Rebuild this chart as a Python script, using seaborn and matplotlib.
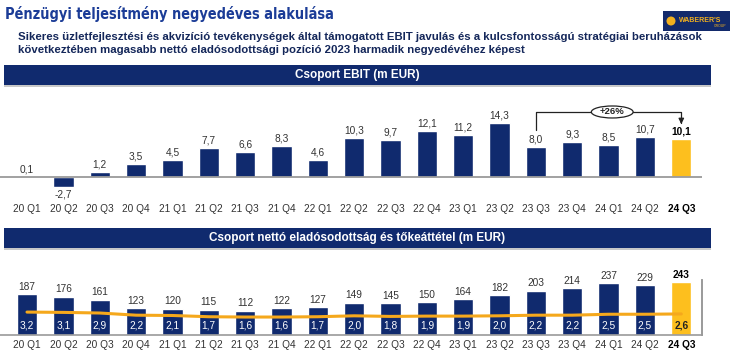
import matplotlib
matplotlib.use("Agg")
import matplotlib.pyplot as plt
from matplotlib.patches import Rectangle, Ellipse, Circle
import seaborn as sns
import pandas as pd

quarters = ["20 Q1", "20 Q2", "20 Q3", "20 Q4", "21 Q1", "21 Q2", "21 Q3", "21 Q4",
            "22 Q1", "22 Q2", "22 Q3", "22 Q4", "23 Q1", "23 Q2", "23 Q3", "23 Q4",
            "24 Q1", "24 Q2", "24 Q3"]
ebit = [0.1, -2.7, 1.2, 3.5, 4.5, 7.7, 6.6, 8.3, 4.6, 10.3, 9.7, 12.1, 11.2, 14.3,
        8.0, 9.3, 8.5, 10.7, 10.1]
net_debt = [187, 176, 161, 123, 120, 115, 112, 122, 127, 149, 145, 150, 164, 182,
            203, 214, 237, 229, 243]
leverage = [3.2, 3.1, 2.9, 2.2, 2.1, 1.7, 1.6, 1.6, 1.7, 2.0, 1.8, 1.9, 1.9, 2.0,
            2.2, 2.2, 2.5, 2.5, 2.6]
growth_label = "+26%"

title = "Pénzügyi teljesítmény negyedéves alakulása"
subtitle1 = ("Sikeres üzletfejlesztési és akvizíció tevékenységek által támogatott EBIT javulás "
             "és a kulcsfontosságú stratégiai beruházások")
subtitle2 = "következtében magasabb nettó eladósodottsági pozíció 2023 harmadik negyedévéhez képest"
header1 = "Csoport EBIT (m EUR)"
header2 = "Csoport nettó eladósodottság és tőkeáttétel (m EUR)"

NAVY = "#102a6e"
YELLOW = "#fdbf1e"
ORANGE = "#f5a81c"
GREY = "#9a9a9a"
TXT = "#333333"

sns.set_theme(style="white")
plt.rcParams["font.family"] = ["Liberation Sans", "DejaVu Sans"]

W, H = 730, 362
fig = plt.figure(figsize=(W / 100, H / 100), dpi=100)
fig.patch.set_facecolor("white")


def rect(x0, y0, x1, y1):
    return [x0 / W, 1 - y1 / H, (x1 - x0) / W, (y1 - y0) / H]


# background/decoration axes in pixel coordinates
bg = fig.add_axes([0, 0, 1, 1], zorder=0)
bg.set_xlim(0, W)
bg.set_ylim(H, 0)
bg.axis("off")

ttl = bg.text(5, 14, title, fontsize=17, fontweight="heavy", color="#1b3c97",
              family=["DejaVu Sans"], fontstretch="condensed",
              va="center", ha="left")
renderer = fig.canvas.get_renderer()
tw = ttl.get_window_extent(renderer).width
if tw > 330:
    ttl.set_fontsize(17 * 330 / tw)

bg.text(18, 37, subtitle1, fontsize=8.2, fontweight="bold", color="#14275a",
        va="center", ha="left")
bg.text(18, 50, subtitle2, fontsize=8.2, fontweight="bold", color="#14275a",
        va="center", ha="left")

# logo
bg.add_patch(Rectangle((663, 11), 67, 20, facecolor="#132a6b", edgecolor="none"))
bg.add_patch(Circle((671, 21), 4.5, facecolor="#f2b01e", edgecolor="none"))
bg.text(679, 20, "WABERER'S", fontsize=5, fontweight="bold", color="#f2b01e",
        va="center", ha="left")
bg.text(726, 26, "GROUP", fontsize=2.5, color="#f2b01e", va="center", ha="right")

for (y0, y1, txt) in [(65, 85, header1), (228, 248, header2)]:
    bg.add_patch(Rectangle((4, y0 + 1.5), 707, y1 - y0, facecolor="#c8c8c8",
                           edgecolor="none"))
    bg.add_patch(Rectangle((4, y0), 707, y1 - y0, facecolor=NAVY, edgecolor="none"))
    bg.text(357, (y0 + y1) / 2, txt, fontsize=8.5, fontweight="bold", color="white",
            va="center", ha="center")

palette = [NAVY] * (len(quarters) - 1) + [YELLOW]
x_left = -27 / 36.35
x_right = (702 - 27) / 36.35

# ---------------- EBIT chart ----------------
df1 = pd.DataFrame({"q": quarters, "ebit": ebit})
ax1 = fig.add_axes(rect(0, 95, 702, 200), zorder=2)
ax1.patch.set_alpha(0)
sns.barplot(data=df1, x="q", y="ebit", hue="q", palette=palette, legend=False,
            width=0.56, saturation=1, ax=ax1)
ax1.set_xlim(x_left, x_right)
px1 = 3.78
ax1.set_ylim(-(200 - 177) / px1, (177 - 95) / px1)
ax1.axhline(0, color=GREY, lw=1.3, xmin=0, xmax=1, zorder=1)
for s in ax1.spines.values():
    s.set_visible(False)
ax1.set_yticks([])
ax1.set_xlabel("")
ax1.set_ylabel("")
ax1.tick_params(axis="x", length=0, pad=3, labelsize=7.3, labelcolor=TXT)
for i, v in enumerate(ebit):
    last = i == len(ebit) - 1
    lab = f"{v:.1f}".replace(".", ",")
    if v >= 0:
        ax1.text(i, v + 2.5 / px1, lab, ha="center", va="bottom", fontsize=7.3,
                 color="black" if last else TXT, fontweight="bold" if last else "normal")
    else:
        ax1.text(i, v - 2.5 / px1, lab, ha="center", va="top", fontsize=7.3, color=TXT)
for t in ax1.get_xticklabels():
    if t.get_text() == quarters[-1]:
        t.set_fontweight("bold")
        t.set_color("black")

# +26% bracket
i0, i1 = 14, len(quarters) - 1
y_top = 17.2
ax1.plot([i0, i0, i1, i1], [ebit[i0] + 4.4, y_top, y_top, ebit[i1] + 4.3],
         color="#222222", lw=0.9, clip_on=False, zorder=3)
ax1.annotate("", xy=(i1, ebit[i1] + 3.9), xytext=(i1, ebit[i1] + 4.6),
             arrowprops=dict(arrowstyle="-|>", color="#222222", lw=0.9,
                             mutation_scale=8), zorder=3)
ex = (i0 + i1) / 2 + 0.1
ax1.add_patch(Ellipse((ex, y_top), 1.15, 12 / px1, facecolor="white",
                      edgecolor="#222222", lw=0.9, zorder=4, clip_on=False))
ax1.text(ex, y_top, growth_label, ha="center", va="center", fontsize=6.8,
         fontweight="bold", color="#222222", zorder=5)

# ---------------- Net debt chart ----------------
df2 = pd.DataFrame({"q": quarters, "debt": net_debt, "lev": leverage})
ax2 = fig.add_axes(rect(0, 280, 702, 335), zorder=2)
ax2.patch.set_alpha(0)
sns.barplot(data=df2, x="q", y="debt", hue="q", palette=palette, legend=False,
            width=0.56, saturation=1, ax=ax2)
ax2.set_xlim(x_left, x_right)
px2 = 0.218
ax2.set_ylim(0, 55 / px2)
for k, s in ax2.spines.items():
    s.set_visible(k in ("bottom", "right"))
    s.set_color(GREY)
    s.set_linewidth(1.2)
ax2.set_yticks([])
ax2.set_xlabel("")
ax2.set_ylabel("")
ax2.tick_params(axis="x", length=0, pad=3.5, labelsize=7.3, labelcolor=TXT)
for t in ax2.get_xticklabels():
    if t.get_text() == quarters[-1]:
        t.set_fontweight("bold")
        t.set_color("black")
for i, v in enumerate(net_debt):
    last = i == len(net_debt) - 1
    ax2.text(i, v + 2.5 / px2, f"{v}", ha="center", va="bottom", fontsize=7.3,
             color="black" if last else TXT, fontweight="bold" if last else "normal",
             clip_on=False)

ax3 = ax2.twinx()
ax3.set_zorder(3)
ax3.patch.set_alpha(0)
px3 = 3.1
ax3.set_ylim(-13 / px3, (55 - 13) / px3)
sns.lineplot(data=df2, x="q", y="lev", color=ORANGE, lw=2.2, ax=ax3, sort=False)
ax3.set_yticks([])
ax3.set_ylabel("")
ax3.set_xlabel("")
for k, s in ax3.spines.items():
    s.set_visible(k == "right")
    s.set_color(GREY)
    s.set_linewidth(1.2)
ax3.set_xlim(x_left, x_right)
for i, v in enumerate(leverage):
    last = i == len(leverage) - 1
    ax2.text(i, 10 / px2, f"{v:.1f}".replace(".", ","), ha="center", va="center",
             fontsize=7.3, color="#222222" if last else "white",
             fontweight="bold" if last else "normal", zorder=5)

fig.savefig("out.png", dpi=100)
